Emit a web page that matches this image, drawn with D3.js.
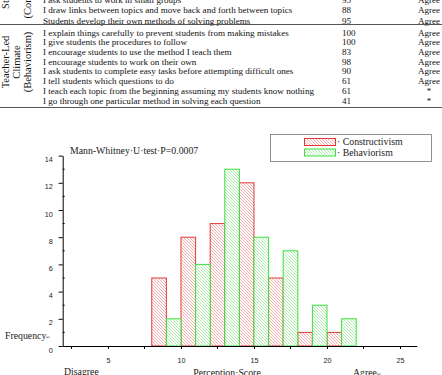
<!DOCTYPE html>
<html>
<head>
<meta charset="utf-8">
<script src="https://cdn.jsdelivr.net/npm/d3@7"></script>
<style>
  body { margin: 0; background: #fff; }
  svg { display: block; font-family: "Liberation Serif", "Times New Roman", serif; }
</style>
</head>
<body>
<svg id="chart" width="442" height="375"></svg>
<script>
// table: teaching climate items
const studentLabel = ['Student-Led', 'Climate', '(Constructivism)'];
const studentItems = [
  'I ask students to work in small groups',
  'I draw links between topics and move back and forth between topics',
  'Students develop their own methods of solving problems'
];
const studentPct = [95, 88, 95];
const studentResult = ['Agree', 'Agree', 'Agree'];

const teacherLabel = ['Teacher-Led', 'Climate', '(Behaviorism)'];
const teacherItems = [
  'I explain things carefully to prevent students from making mistakes',
  'I give students the procedures to follow',
  'I encourage students to use the method I teach them',
  'I encourage students to work on their own',
  'I ask students to complete easy tasks before attempting difficult ones',
  'I tell students which questions to do',
  'I teach each topic from the beginning assuming my students know nothing',
  'I go through one particular method in solving each question'
];
const teacherPct = [100, 100, 83, 98, 90, 61, 61, 41];
const teacherResult = ['Agree', 'Agree', 'Agree', 'Agree', 'Agree', 'Agree', '*', '*'];

// histogram: perception score bins (left edge) and frequencies
const constructivismBins = [8, 10, 12, 14, 16, 18, 20];
const constructivismFreq = [5, 8, 9, 12, 5, 1, 1];
const behaviorismBins = [9, 11, 13, 15, 17, 19, 21];
const behaviorismFreq = [2, 6, 13, 8, 7, 3, 2];

const xMajorTicks = [5, 10, 15, 20, 25];
const xMinorTicks = [2.5, 7.5, 12.5, 17.5, 22.5];
const yMajorTicks = [0, 2, 4, 6, 8, 10, 12, 14];
const yMinorTicks = [1, 3, 5, 7, 9, 11, 13];

const svg = d3.select('#chart');

// ---------- table ----------
const table = svg.append('g').attr('font-size', 9.1).attr('fill', '#111');

function drawRows(items, pct, result, y) {
  const g = table.append('g');
  items.forEach((t, i) => {
    g.append('text').attr('x', 43).attr('y', y(t)).attr('dy', '0.35em').text(t);
    g.append('text').attr('x', 342).attr('y', y(t)).attr('dy', '0.35em').text(pct[i]);
    g.append('text').attr('x', 429).attr('y', y(t)).attr('dy', '0.35em')
      .attr('text-anchor', 'middle').text(result[i]);
  });
}

const studentY = d3.scalePoint().domain(studentItems).range([0, 20.5]);
const teacherY = d3.scalePoint().domain(teacherItems).range([32.4, 100.5]);
drawRows(studentItems, studentPct, studentResult, studentY);
drawRows(teacherItems, teacherPct, teacherResult, teacherY);

// rotated group labels
function groupLabel(lines, cy) {
  const xs = [5.5, 16.5, 27.5];
  lines.forEach((l, i) => {
    table.append('text')
      .attr('transform', `translate(${xs[i]},${cy}) rotate(-90)`)
      .attr('text-anchor', 'middle')
      .attr('dy', '0.35em')
      .attr('font-size', 10.5)
      .text(l);
  });
}
groupLabel(studentLabel, -17);
groupLabel(teacherLabel, 62);

table.append('line').attr('x1', 0).attr('x2', 442).attr('y1', 24.5).attr('y2', 24.5)
  .attr('stroke', '#555').attr('stroke-width', 1);
table.append('line').attr('x1', 0).attr('x2', 442).attr('y1', 107.5).attr('y2', 107.5)
  .attr('stroke', '#555').attr('stroke-width', 1.2);

// ---------- histogram ----------
const defs = svg.append('defs');
function hatch(id, color) {
  const p = defs.append('pattern')
    .attr('id', id)
    .attr('patternUnits', 'userSpaceOnUse')
    .attr('width', 3).attr('height', 3);
  p.append('rect').attr('width', 3).attr('height', 3).attr('fill', '#fff');
  p.append('path')
    .attr('d', 'M0,0L3,3M-1,2L1,4M2,-1L4,1')
    .attr('stroke', color).attr('stroke-width', 0.7);
}
hatch('hatchRed', '#f08a8a');
hatch('hatchGreen', '#8fe88f');

const redStroke = '#e03a3a';
const greenStroke = '#3ee03e';

const x = d3.scaleLinear().domain([1.9, 26.15]).range([62.7, 416.8]);
const y = d3.scaleLinear().domain([0, 14]).range([346, 155.6]);

const bars = svg.append('g');
bars.selectAll('rect.c')
  .data(constructivismBins)
  .join('rect')
  .attr('class', 'c')
  .attr('x', d => x(d))
  .attr('width', d => x(d + 1) - x(d))
  .attr('y', (d, i) => y(constructivismFreq[i]))
  .attr('height', (d, i) => y(0) - y(constructivismFreq[i]))
  .attr('fill', 'url(#hatchRed)')
  .attr('stroke', redStroke)
  .attr('stroke-width', 1);

bars.selectAll('rect.b')
  .data(behaviorismBins)
  .join('rect')
  .attr('class', 'b')
  .attr('x', d => x(d))
  .attr('width', d => x(d + 1) - x(d))
  .attr('y', (d, i) => y(behaviorismFreq[i]))
  .attr('height', (d, i) => y(0) - y(behaviorismFreq[i]))
  .attr('fill', 'url(#hatchGreen)')
  .attr('stroke', greenStroke)
  .attr('stroke-width', 1);

// x axis
const xAxis = svg.append('g').attr('transform', `translate(0,${y(0)})`);
xAxis.call(d3.axisBottom(x).tickValues(xMajorTicks).tickSize(3).tickPadding(9).tickSizeOuter(0))
  .call(g => g.selectAll('text').attr('font-size', 7.2).attr('font-family', null).attr('fill', '#222'));
xAxis.selectAll('.minor')
  .data(xMinorTicks)
  .join('line')
  .attr('class', 'minor')
  .attr('x1', d => x(d)).attr('x2', d => x(d))
  .attr('y1', 0).attr('y2', 3)
  .attr('stroke', '#000');

// y axis
const yAxis = svg.append('g').attr('transform', `translate(${x(1.9)},0)`);
yAxis.call(d3.axisLeft(y).tickValues(yMajorTicks).tickSize(4).tickPadding(6).tickSizeOuter(0))
  .call(g => g.selectAll('text').attr('font-size', 7.2).attr('font-family', null)
    .attr('dy', '0.85em').attr('fill', '#222'));
yAxis.selectAll('.minor')
  .data(yMinorTicks)
  .join('line')
  .attr('class', 'minor')
  .attr('x1', 0).attr('x2', 2)
  .attr('y1', d => y(d)).attr('y2', d => y(d))
  .attr('stroke', '#000');
svg.selectAll('.domain').attr('stroke', '#000');

// annotation
svg.append('text').attr('x', 70).attr('y', 154).attr('font-size', 9.8)
  .attr('fill', '#222').text('Mann-Whitney·U·test·P=0.0007');

// legend
const legend = svg.append('g');
legend.append('rect').attr('x', 270.5).attr('y', 134.5).attr('width', 161).attr('height', 27)
  .attr('fill', '#fff').attr('stroke', '#777').attr('stroke-width', 0.8);
const legendItems = [
  { name: 'Constructivism', fill: 'url(#hatchRed)', stroke: redStroke },
  { name: 'Behaviorism', fill: 'url(#hatchGreen)', stroke: greenStroke }
];
legendItems.forEach((it, i) => {
  legend.append('rect').attr('x', 304.5).attr('y', 138.5 + i * 10.5)
    .attr('width', 31).attr('height', 7)
    .attr('fill', it.fill).attr('stroke', it.stroke).attr('stroke-width', 1);
  legend.append('text').attr('x', 337).attr('y', 142 + i * 10.5).attr('dy', '0.35em')
    .attr('font-size', 9.8).attr('fill', '#222').text('·\u00a0' + it.name);
});

// axis labels
const yl = svg.append('text').attr('x', 5).attr('y', 339).attr('font-size', 9.8).attr('fill', '#222');
yl.append('tspan').text('Frequency');
yl.append('tspan').attr('font-size', 5).attr('fill', '#666').text('↵');

svg.append('text').attr('x', 64).attr('y', 375).attr('font-size', 9.8).attr('fill', '#222').text('Disagree');
svg.append('text').attr('x', 227).attr('y', 376).attr('font-size', 9.8).attr('fill', '#222')
  .attr('text-anchor', 'middle').text('Perception·Score');
const al = svg.append('text').attr('x', 353).attr('y', 376).attr('font-size', 9.8).attr('fill', '#222');
al.append('tspan').text('Agree');
al.append('tspan').attr('font-size', 5).attr('fill', '#666').text('↵');
</script>
</body>
</html>
